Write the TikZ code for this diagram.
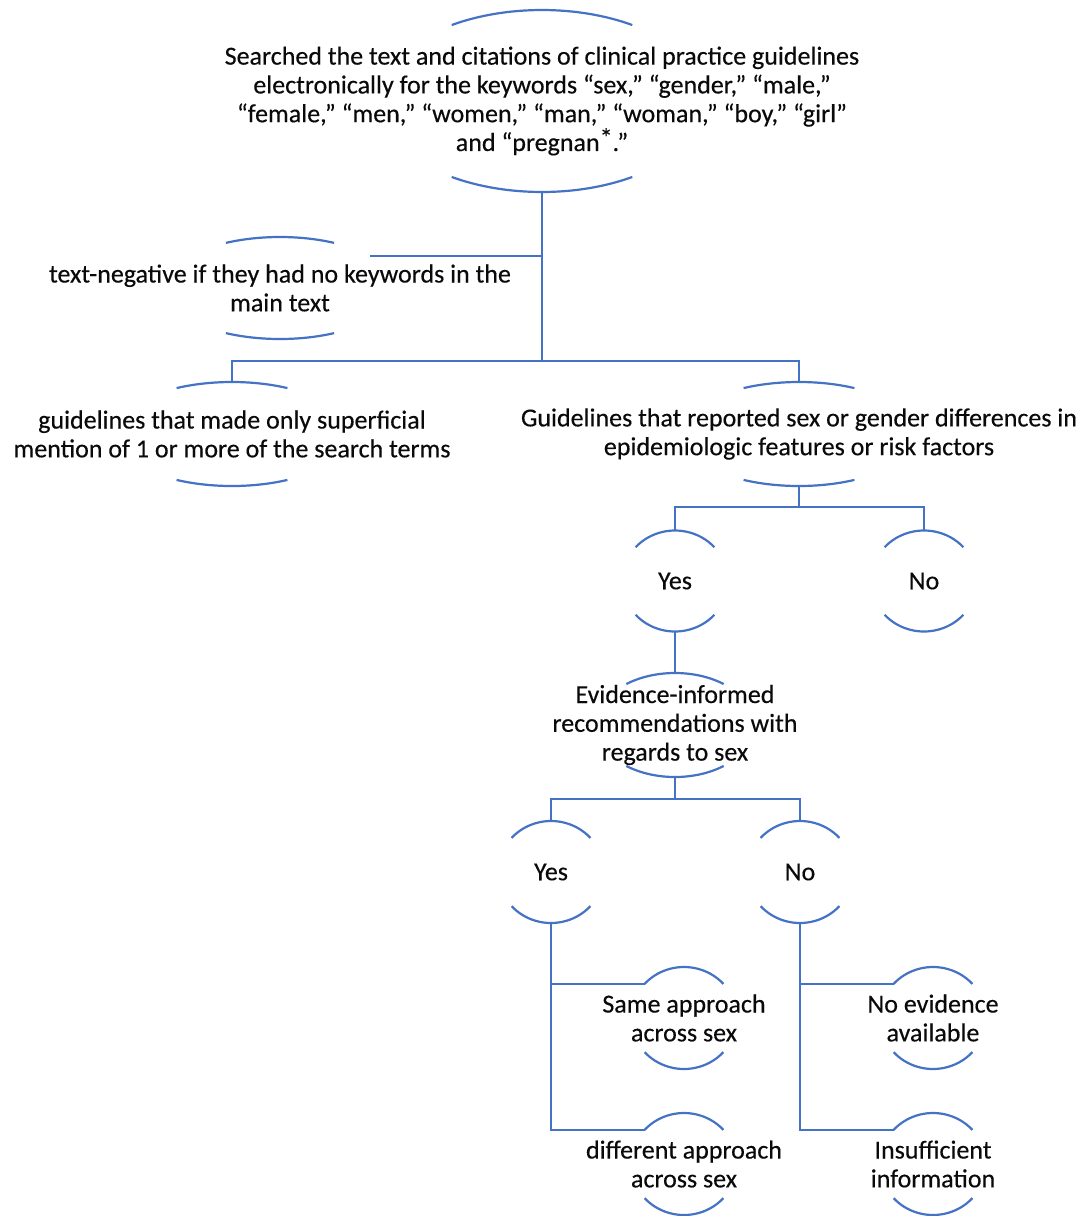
\documentclass[tikz,border=0pt]{standalone}
\usepackage{fontspec}
\setmainfont{Carlito}[FakeBold=0.35]
\usetikzlibrary{calc}
\definecolor{lineblue}{HTML}{4472C4}
\definecolor{textcol}{HTML}{0A0A0A}
% #1 node name, #2 x radius, #3 y radius, #4 half angle of the visible arcs
\newcommand\capsarc[4]{%
  \draw[arcline] (#1.center) ++(90+#4:#2pt and #3pt) arc[start angle=90+#4, end angle=90-#4, x radius=#2pt, y radius=#3pt];
  \draw[arcline] (#1.center) ++(270-#4:#2pt and #3pt) arc[start angle=270-#4, end angle=270+#4, x radius=#2pt, y radius=#3pt];
  \coordinate (#1-n) at ([yshift=#3pt]#1.center);
  \coordinate (#1-s) at ([yshift=-#3pt]#1.center);
  \coordinate (#1-l) at ([shift={(90+#4:#2pt and #3pt)}]#1.center);
}
\begin{document}
\begin{tikzpicture}[x=1pt, y=-1pt,
  txt/.style={align=center, font=\fontsize{26}{28.8}\selectfont\addfontfeature{FakeBold=0.35}, text=textcol, inner sep=0pt},
  arcline/.style={draw=lineblue, line width=2.2pt},
  conn/.style={draw=lineblue, line width=2.2pt}]
\useasboundingbox (0,0) rectangle (1084,1216);

\node[txt] (top) at (542,101) {Searched the text and citations of clinical practice guidelines\\electronically for the keywords “sex,” “gender,” “male,”\\“female,” “men,” “women,” “man,” “woman,” “boy,” “girl”\\and “pregnan\raisebox{0.35ex}{*}.”};
\capsarc{top}{164}{91}{33.4}

\node[txt] (tn) at (280,288) {text-negative if they had no keywords in the\\main text};
\capsarc{tn}{116}{51}{27.8}
\coordinate (tn-r) at ([shift={(39:116pt and 51pt)}]tn.center);

\node[txt] (gs) at (232,434) {guidelines that made only superficial\\mention of 1 or more of the search terms};
\capsarc{gs}{118}{52}{28}

\node[txt] (gd) at (799,434) {Guidelines that reported sex or gender differences in\\epidemiologic features or risk factors};
\capsarc{gd}{118}{52}{28}

\node[txt] (yes1) at (675,581) {Yes};
\capsarc{yes1}{53}{50.5}{48}
\node[txt] (no1) at (924,581) {No};
\capsarc{no1}{53}{50.5}{48}

\node[txt] (ev) at (675,725) {Evidence-informed\\recommendations with\\regards to sex};
\capsarc{ev}{79}{52}{38}

\node[txt] (yes2) at (551,872) {Yes};
\capsarc{yes2}{53}{51}{48}
\node[txt] (no2) at (800,872) {No};
\capsarc{no2}{53}{51}{48}

\node[txt] (same) at (684,1018) {Same approach\\across sex};
\capsarc{same}{53}{51}{48}
\node[txt] (noev) at (933,1018) {No evidence\\available};
\capsarc{noev}{53}{51}{48}
\node[txt] (diff) at (684,1164) {different approach\\across sex};
\capsarc{diff}{53}{51}{48}
\node[txt] (ins) at (933,1164) {Insufficient\\information};
\capsarc{ins}{53}{51}{48}

\coordinate (j1) at (542,361);
\coordinate (j2) at (799,507);
\coordinate (j3) at (675,799);

\draw[conn] (top-s) |- (tn-r);
\draw[conn] (top-s) -- (j1);
\draw[conn] (gs-n) |- (j1) -| (gd-n);
\draw[conn] (gd-s) -- (j2);
\draw[conn] (yes1-n) |- (j2) -| (no1-n);
\draw[conn] (yes1-s) -- (ev-n);
\draw[conn] (ev-s) -- (j3);
\draw[conn] (yes2-n) |- (j3) -| (no2-n);
\draw[conn] (yes2-s) |- (same-l);
\draw[conn] (yes2-s) |- (diff-l);
\draw[conn] (no2-s) |- (noev-l);
\draw[conn] (no2-s) |- (ins-l);
\end{tikzpicture}
\end{document}
